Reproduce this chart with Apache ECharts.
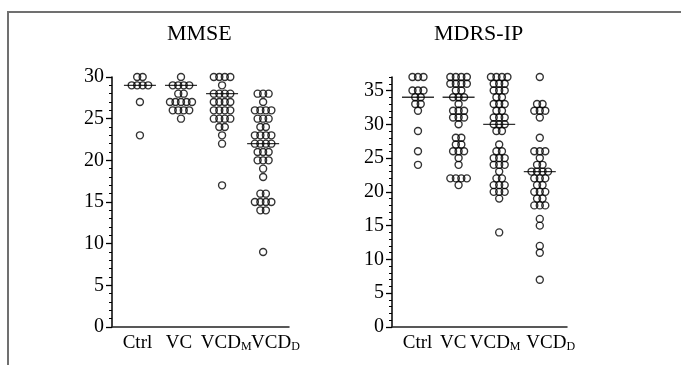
<!DOCTYPE html>
<html>
<head>
<meta charset="UTF-8">
<title>MMSE / MDRS-IP</title>
<script src="https://cdn.jsdelivr.net/npm/echarts@6/dist/echarts.min.js"></script>
<style>
  body { margin: 0; background: #fff; }
  #root { width: 681px; height: 365px; }
</style>
</head>
<body>
<div id="root"></div>
<script>
// group labels (main text + subscript)
var names = ['Ctrl', 'VC', 'VCD', 'VCD'];
var subs = ['', '', 'M', 'D'];

// MMSE scores per group
var mmseCtrl = [30, 30, 29, 29, 29, 29, 27, 23];
var mmseVC = [30, 29, 29, 29, 29, 28, 28, 27, 27, 27, 27, 27, 26, 26, 26, 26, 25];
var mmseVCDM = [30, 30, 30, 30, 29, 28, 28, 28, 28, 27, 27, 27, 27, 26, 26, 26, 26,
  25, 25, 25, 25, 24, 24, 23, 22, 17];
var mmseVCDD = [28, 28, 28, 27, 26, 26, 26, 26, 25, 25, 25, 24, 24, 23, 23, 23, 23,
  22, 22, 22, 22, 21, 21, 21, 20, 20, 20, 19, 18, 16, 16, 15, 15, 15, 15, 14, 14, 9];
var mmseMedian = [29, 29, 28, 22];

// MDRS-IP scores per group
var mdrsCtrl = [37, 37, 37, 35, 35, 35, 34, 34, 33, 33, 32, 29, 26, 24];
var mdrsVC = [37, 37, 37, 37, 36, 36, 36, 36, 35, 35, 34, 34, 34, 33, 32, 32, 32,
  31, 31, 31, 30, 28, 28, 27, 27, 26, 26, 26, 25, 24, 22, 22, 22, 22, 21];
var mdrsVCDM = [37, 37, 37, 37, 36, 36, 36, 35, 35, 35, 34, 34, 33, 33, 33, 32, 32,
  31, 31, 31, 30, 30, 30, 29, 29, 27, 26, 26, 25, 25, 25, 24, 24, 24, 23, 22, 22,
  21, 21, 21, 20, 20, 20, 19, 14];
var mdrsVCDD = [37, 33, 33, 32, 32, 32, 31, 28, 26, 26, 26, 25, 24, 24, 23, 23, 23, 23,
  22, 22, 22, 21, 21, 20, 20, 20, 19, 19, 18, 18, 18, 16, 15, 12, 11, 7];
var mdrsMedian = [34, 34, 30, 23];

var serif = "'Liberation Serif', 'Times New Roman', serif";
var DOT_GAP = 5.5;

// equal values sit side by side around the group centre
function buildDots(groups) {
  var out = [];
  groups.forEach(function (vals, g) {
    var counts = {}, seen = {};
    vals.forEach(function (v) { counts[v] = (counts[v] || 0) + 1; });
    vals.forEach(function (v) {
      var k = seen[v] || 0;
      seen[v] = k + 1;
      var off = (k - (counts[v] - 1) / 2) * DOT_GAP;
      out.push({ value: [g + 1, v], symbolOffset: [off, 0] });
    });
  });
  return out;
}

function medianData(arr) {
  return arr.map(function (m, i) { return [i + 1, m]; });
}

// group labels sit a bit right of the dots in the original, last one
// goes on its own axis so the overlap check does not drop it
function xAxisFor(grid, min, max, labelAt, showLine) {
  return {
    type: 'value', gridIndex: grid, position: 'bottom', offset: 0, min: min, max: max,
    axisLine: { show: showLine, onZero: false, lineStyle: { color: '#222', width: 1.5 } },
    axisTick: { show: false },
    splitLine: { show: false },
    axisLabel: {
      customValues: labelAt,
      showMinLabel: true, showMaxLabel: true, hideOverlap: false,
      margin: 7,
      formatter: function (v) {
        var i = Math.min(3, Math.round(v) - 1);
        return subs[i] ? '{n|' + names[i] + '}{s|' + subs[i] + '}' : '{n|' + names[i] + '}';
      },
      rich: {
        n: { fontFamily: serif, fontSize: 19, color: '#000', lineHeight: 19, verticalAlign: 'top' },
        s: { fontFamily: serif, fontSize: 12, color: '#000', lineHeight: 12, verticalAlign: 'bottom', padding: [14, 0, 0, 0] }
      }
    }
  };
}

function majorY(grid, max, labels) {
  return {
    type: 'value', gridIndex: grid, position: 'left', min: 0, max: max, interval: 5,
    axisLine: { show: true, lineStyle: { color: '#000', width: 1.5 } },
    axisTick: { show: true, length: 6, customValues: labels, lineStyle: { color: '#000', width: 1.3 } },
    axisLabel: { customValues: labels, fontFamily: serif, fontSize: 20, color: '#000', margin: 8 },
    splitLine: { show: false }
  };
}

function minorY(grid, max) {
  return {
    type: 'value', gridIndex: grid, position: 'left', offset: 0, min: 0, max: max, interval: 1,
    axisLine: { show: false },
    axisTick: { show: true, length: 3, lineStyle: { color: '#000', width: 1 } },
    axisLabel: { show: false },
    splitLine: { show: false }
  };
}

function dotSeries(xi, yi, data) {
  return {
    type: 'scatter', xAxisIndex: xi, yAxisIndex: yi,
    symbol: 'circle', symbolSize: 7,
    itemStyle: { color: 'rgba(0,0,0,0)', borderColor: '#000', borderWidth: 1.4 },
    data: data, silent: true
  };
}

function medSeries(xi, yi, data) {
  return {
    type: 'scatter', xAxisIndex: xi, yAxisIndex: yi,
    symbol: 'rect', symbolSize: [32, 1.3],
    itemStyle: { color: '#000' },
    data: data, silent: true
  };
}

var chart = echarts.init(document.getElementById('root'));
chart.setOption({
  animation: false,
  backgroundColor: '#fff',
  title: [
    { text: 'MMSE', left: 167, top: 23, padding: 0,
      textStyle: { fontFamily: serif, fontSize: 22, fontWeight: 'normal', color: '#000' } },
    { text: 'MDRS-IP', left: 434, top: 23, padding: 0,
      textStyle: { fontFamily: serif, fontSize: 22, fontWeight: 'normal', color: '#000' } }
  ],
  graphic: [{
    type: 'rect', shape: { x: 8, y: 12, width: 700, height: 400 },
    style: { fill: 'none', stroke: '#707070', lineWidth: 2 }, silent: true
  }],
  grid: [
    { left: 112, top: 77, width: 177, height: 250 },
    { left: 392, top: 77, width: 175, height: 250 }
  ],
  xAxis: [
    xAxisFor(0, 0.32, 4.63, [0.94, 1.95, 3.1], true),
    xAxisFor(1, 0.36, 4.67, [0.99, 1.87, 2.9], true),
    xAxisFor(0, 0.32, 4.63, [4.3], false),
    xAxisFor(1, 0.36, 4.67, [4.27], false)
  ],
  yAxis: [
    majorY(0, 30, [0, 5, 10, 15, 20, 25, 30]), minorY(0, 30),
    majorY(1, 37, [0, 5, 10, 15, 20, 25, 30, 35]), minorY(1, 37)
  ],
  series: [
    dotSeries(0, 0, buildDots([mmseCtrl, mmseVC, mmseVCDM, mmseVCDD])),
    medSeries(0, 0, medianData(mmseMedian)),
    dotSeries(1, 2, buildDots([mdrsCtrl, mdrsVC, mdrsVCDM, mdrsVCDD])),
    medSeries(1, 2, medianData(mdrsMedian))
  ]
});
</script>
</body>
</html>
